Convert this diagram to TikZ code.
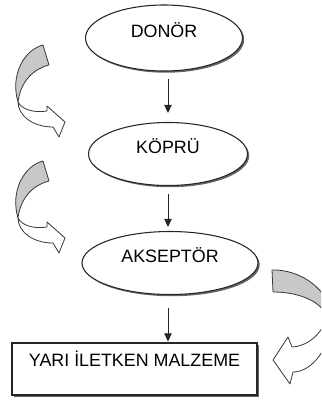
\documentclass[tikz,border=0pt]{standalone}
\usepackage{fontspec}
\setmainfont{Liberation Sans}
\usetikzlibrary{shapes.geometric,shadows,arrows.meta}
\definecolor{gri}{RGB}{200,200,200}
\definecolor{cizgi}{RGB}{55,55,55}
\def\px{0.75pt}
\tikzset{
  golge/.style={drop shadow={shadow xshift=1.3pt,shadow yshift=-1.3pt,fill=black!75,opacity=0.8}},
  elips/.style={ellipse,draw=black!85,line width=0.8pt,fill=white,golge,inner sep=0pt,
    font=\fontsize{13.4}{15}\selectfont,text height=9.6pt,text depth=10.8pt},
  kutu/.style={rectangle,draw=black!85,line width=0.8pt,fill=white,golge,inner sep=0pt,
    font=\fontsize{13.4}{15}\selectfont,text height=9.6pt,text depth=13.8pt},
  ok/.style={-{Triangle[length=6pt,width=5.5pt]},line width=0.75pt,black!85},
  kivrim/.style={draw=cizgi,line width=0.6pt,line join=round}
}
\begin{document}
\begin{tikzpicture}[x=\px,y=-\px]
  % --- Sınırlar ---
  \clip (0,0) rectangle (321,403);

  % --- Düğümler ---
  \node[elips,minimum width=157*\px,minimum height=66*\px] (donor) at (164,38) {DONÖR};
  \node[elips,minimum width=159*\px,minimum height=63*\px] (kopru) at (168,154) {KÖPRÜ};
  \node[elips,minimum width=176*\px,minimum height=63*\px] (akseptor) at (170,263) {AKSEPTÖR};
  \node[kutu,minimum width=245*\px,minimum height=52*\px] (yari) at (134.5,369) {YARI İLETKEN MALZEME};

  % --- Oklar ---
  \draw[ok,shorten <=5.25pt,shorten >=6.75pt] (kopru.north |- donor.south) -- (kopru.north);
  \draw[ok,shorten <=6pt,shorten >=3pt] (kopru.south) -- (kopru.south |- akseptor.north);
  \draw[ok,shorten <=9.75pt,shorten >=0.75pt] (kopru.south |- akseptor.south) -- (kopru.south |- yari.north);

  % --- Soldaki kıvrık oklar ---
  \foreach \dy in {0,116}{%
    \begin{scope}[shift={(0,\dy)}]
      \filldraw[kivrim,fill=white] (18,102) .. controls (18,115) and (32,127) .. (53,127)
        -- (59,137) -- (65,122) -- (47,106) -- (47,111)
        .. controls (35,113) and (22,110) .. (18,102) -- cycle;
      \filldraw[kivrim,fill=gri] (43,45) .. controls (24,50) and (10,75) .. (18,102)
        .. controls (20,85) and (30,70) .. (49,65) -- cycle;
    \end{scope}
  }

  % --- Sağdaki kıvrık ok (kenarda kesik) ---
  \filldraw[kivrim,fill=white] (331,318) .. controls (331,348) and (312,372) .. (293,372)
    -- (290,384) -- (273,360) -- (288,337) -- (292,347)
    .. controls (308,346) and (322,334) .. (327,317) -- cycle;
  \filldraw[kivrim,fill=gri] (272,270) .. controls (300,269) and (331,290) .. (331,318)
    -- (327,317) .. controls (322,302) and (300,292) .. (273,292) -- cycle;
\end{tikzpicture}
\end{document}
